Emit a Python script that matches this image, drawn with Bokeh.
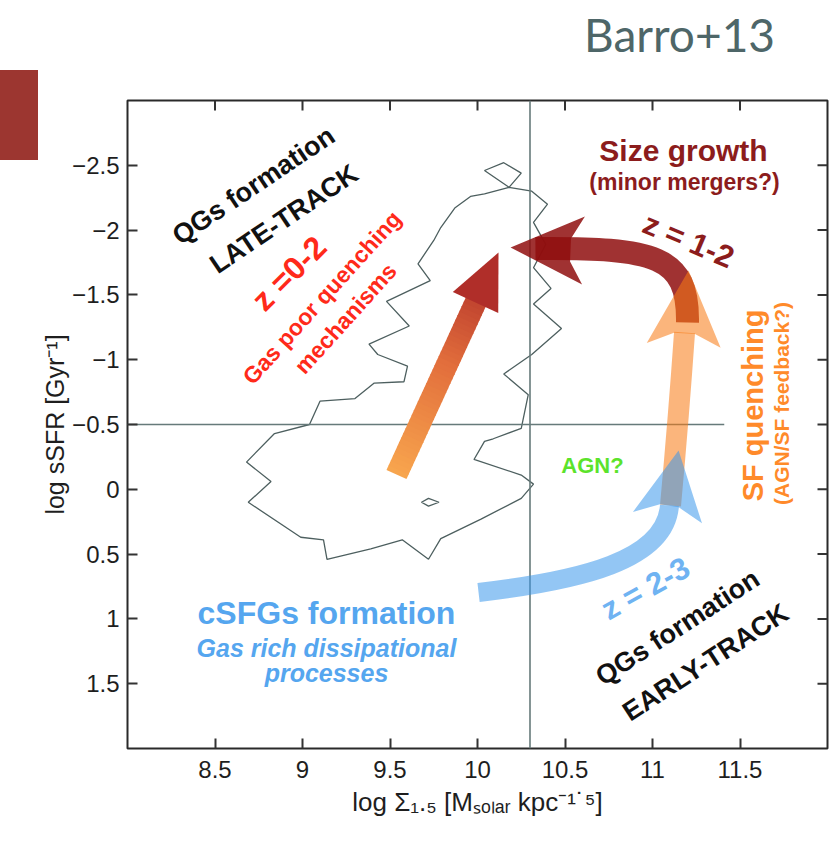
import numpy as np
from bokeh.plotting import figure
from bokeh.layouts import row, column
from bokeh.models import Range1d, FixedTicker, ColumnDataSource, Div, Spacer
from bokeh.embed import file_html
from bokeh.resources import INLINE
from bokeh.core.properties import value

# ---------------- data ----------------
x_ticks = [8.5, 9.0, 9.5, 10.0, 10.5, 11.0, 11.5]
x_tick_labels = ["8.5", "9", "9.5", "10", "10.5", "11", "11.5"]
y_ticks = [-2.5, -2.0, -1.5, -1.0, -0.5, 0.0, 0.5, 1.0, 1.5]
y_tick_labels = ["\u22122.5", "\u22122", "\u22121.5", "\u22121", "\u22120.5", "0", "0.5", "1", "1.5"]
x_start, x_end = 8.0, 12.0
y_top, y_bottom = -3.0, 2.0

divider_x = 10.3          # vertical reference line
divider_y = -0.5          # horizontal reference line
divider_y_xmax = 11.41

# outer density contour (log Sigma_1.5, log sSFR)
contour_x = [10.18, 10.04, 9.96, 9.87, 9.79, 9.75, 9.66, 9.73, 9.48, 9.61, 9.38, 9.43,
             9.60, 9.58, 9.41, 9.30, 9.10, 9.04, 8.84, 8.68, 8.82, 8.69, 8.99, 9.12,
             9.14, 9.39, 9.57, 9.72, 9.79, 10.02, 10.25, 10.32, 10.25, 9.98, 10.04, 10.09,
             10.25, 10.29, 10.15, 10.31, 10.48, 10.32, 10.42, 10.32, 10.39, 10.32, 10.40, 10.31]
contour_y = [-2.33, -2.28, -2.26, -2.17, -2.02, -1.92, -1.74, -1.61, -1.45, -1.26, -1.12, -1.04,
             -0.95, -0.83, -0.82, -0.70, -0.68, -0.50, -0.43, -0.21, -0.06, 0.10, 0.37, 0.39,
             0.54, 0.46, 0.39, 0.54, 0.38, 0.23, 0.07, -0.04, -0.11, -0.23, -0.37, -0.39,
             -0.47, -0.73, -0.89, -1.04, -1.24, -1.43, -1.55, -1.71, -1.89, -2.06, -2.20, -2.30]
loop_x = [10.18, 10.04, 10.15, 10.25]
loop_y = [-2.33, -2.46, -2.52, -2.44]
island_x = [9.68, 9.72, 9.78, 9.72]
island_y = [0.10, 0.07, 0.10, 0.13]

# evolutionary tracks (tail -> tip, bezier control points for curved ones)
late_x = [9.537, 10.12]
late_y = [-0.114, -1.827]
growth_x = [11.20, 11.206, 11.017, 10.331]
growth_y = [-1.287, -1.804, -1.866, -1.858]
growth_tip = (10.189, -1.866)
quench_x = [11.103, 11.137, 11.16, 11.183]
quench_y = [0.125, -0.377, -0.762, -1.210]
quench_tip = (11.206, -1.688)
csfg_x = [10.006, 10.589, 11.074, 11.097]
csfg_y = [0.796, 0.704, 0.549, 0.125]
csfg_tip = (11.149, -0.299)

# annotations
ann_text = ["QGs formation", "LATE-TRACK", "z =0-2", "Gas poor quenching", "mechanisms",
            "Size growth", "(minor mergers?)", "z = 1-2",
            "SF quenching", "(AGN/SF feedback?)", "AGN?",
            "cSFGs formation", "Gas rich dissipational", "processes", "z = 2-3",
            "QGs formation", "EARLY-TRACK"]
ann_x = [8.72, 8.894, 8.923, 9.111, 9.246,
         11.177, 11.183, 11.206,
         11.577, 11.737, 10.657,
         9.137, 9.137, 9.137, 10.96,
         11.143, 11.303]
ann_y = [-2.344, -2.086, -1.665, -1.48, -1.318,
         -2.614, -2.375, -1.92,
         -0.647, -0.662, -0.184,
         0.958, 1.221, 1.421, 0.765,
         1.066, 1.336]
source_tag = "Barro+13"

# ---------------- styles / layout ----------------
W, H = 835, 841
HEAD_H = 60                       # slide header strip holding the citation
SIDE_W = 38                       # width of the slide's red marker column
BL, BR, BT, BB = 127 - SIDE_W, 8, 100 - HEAD_H, 93
FW, FH = (W - SIDE_W) - BL - BR, (H - HEAD_H) - BT - BB
SX = FW / (x_end - x_start)
SY = FH / (y_bottom - y_top)

ann_angle = [34, 34, 45, 48, 48, 0, 0, -23, 90, 90, 0, 0, 0, 0, 29, 33, 33]
ann_size = ["27px", "27px", "32px", "23px", "23px", "30px", "23px", "31px",
            "29px", "21px", "22px", "32px", "25px", "25px", "31px", "27px", "27px"]
ann_style = ["bold"] * 12 + ["bold italic", "bold italic", "bold", "bold", "bold"]
ann_color = ["#111111", "#111111", "#ff2a1a", "#ff2a1a", "#ff2a1a",
             "#8c1c1c", "#8c1c1c", "#8c1c1c",
             "#ff8a2a", "#ff8a2a", "#5be32b",
             "#55a6ef", "#55a6ef", "#55a6ef", "#6fb3f2",
             "#111111", "#111111"]
FONT = "Liberation Sans"
TICK_LEN = 10

# slide header with the citation
header = Div(text=source_tag, width=775, height=HEAD_H, margin=(0, 0, 0, 0),
             styles={"font-family": "Lato, 'Gill Sans', sans-serif", "font-size": "46px",
                     "line-height": "46px", "color": "#4e6668", "text-align": "right",
                     "padding-top": "12px", "box-sizing": "border-box"})

# left slide marker (plain block, no text)
marker = Div(text="", width=SIDE_W, height=90, margin=(0, 0, 0, 0),
             styles={"background-color": "#9c3630"})
side = column(Spacer(width=SIDE_W, height=70 - HEAD_H, margin=(0, 0, 0, 0)), marker, spacing=0)

p = figure(width=W - SIDE_W, height=H - HEAD_H, x_range=Range1d(x_start, x_end),
           y_range=Range1d(y_bottom, y_top),
           output_backend="svg", toolbar_location=None,
           min_border_left=BL, min_border_right=BR, min_border_top=BT, min_border_bottom=BB,
           x_axis_label="log \u03a3\u2081.\u2085 [M\u209b\u2092\u2097\u2090\u1d63 kpc\u207b\u00b9\u02d9\u2075]",
           y_axis_label="log sSFR [Gyr\u207b\u00b9]")
p.grid.visible = False
p.background_fill_color = "white"
p.border_fill_color = "white"
p.outline_line_color = "#2a2a2a"
p.outline_line_width = 2

p.xaxis.ticker = FixedTicker(ticks=x_ticks)
p.yaxis.ticker = FixedTicker(ticks=y_ticks)
p.xaxis.major_label_overrides = {t: l for t, l in zip(x_ticks, x_tick_labels)}
p.yaxis.major_label_overrides = {t: l for t, l in zip(y_ticks, y_tick_labels)}
for ax in (p.xaxis[0], p.yaxis[0]):
    ax.major_tick_in = TICK_LEN
    ax.major_tick_out = 0
    ax.major_tick_line_color = "#333333"
    ax.major_tick_line_width = 2
    ax.minor_tick_line_color = None
    ax.axis_line_color = None
    ax.major_label_text_font = FONT
    ax.major_label_text_font_size = "24px"
    ax.major_label_text_color = "#1e1e1e"
    ax.axis_label_text_font = FONT
    ax.axis_label_text_font_style = "normal"
    ax.axis_label_text_color = "#1e1e1e"
p.xaxis.axis_label_text_font_size = "26px"
p.yaxis.axis_label_text_font_size = "25px"
p.xaxis.major_label_standoff = 12
p.yaxis.major_label_standoff = 8
p.xaxis.axis_label_standoff = 6
p.yaxis.axis_label_standoff = 0

# ticks on top and right edges (mirrored from the axis tick lists)
top_len = TICK_LEN / SY
right_len = TICK_LEN / SX
p.segment(x0=x_ticks, x1=x_ticks, y0=[y_top] * len(x_ticks), y1=[y_top + top_len] * len(x_ticks),
          line_color="#333333", line_width=2)
p.segment(x0=[x_end] * len(y_ticks), x1=[x_end - right_len] * len(y_ticks), y0=y_ticks, y1=y_ticks,
          line_color="#333333", line_width=2)

# contour
p.patches(xs=[contour_x, loop_x, island_x], ys=[contour_y, loop_y, island_y],
          fill_color=None, line_color="#4d5f5f", line_width=1.3)

# reference lines
p.segment(x0=[divider_x, x_start], y0=[y_bottom, divider_y], x1=[divider_x, divider_y_xmax],
          y1=[y_top, divider_y], line_color="#667a7a", line_width=1.6)


def to_px(x, y):
    return np.array([(x - x_start) * SX, (y - y_top) * SY])


def to_data(P):
    return P[0] / SX + x_start, P[1] / SY + y_top


def head(tip, frm, back, half, notch, inner):
    T = to_px(*tip)
    F = to_px(*frm)
    u = (T - F) / np.linalg.norm(T - F)
    n = np.array([-u[1], u[0]])
    pts = [T, T - u * back + n * half]
    if notch < back:
        pts += [T - u * notch + n * inner, T - u * notch - n * inner]
    pts += [T - u * back - n * half]
    xs, ys = zip(*[to_data(q) for q in pts])
    return list(xs), list(ys)


def bez(px, py):
    return dict(x0=[px[0]], y0=[py[0]], cx0=[px[1]], cy0=[py[1]],
                cx1=[px[2]], cy1=[py[2]], x1=[px[3]], y1=[py[3]])


# late-track gradient arrow
stops = np.array([[248, 166, 78], [226, 110, 60], [168, 36, 38]], dtype=float)


def grad(t):
    t = min(max(t, 0), 1)
    if t < 0.5:
        c = stops[0] + (stops[1] - stops[0]) * t / 0.5
    else:
        c = stops[1] + (stops[2] - stops[1]) * (t - 0.5) / 0.5
    return "#%02x%02x%02x" % tuple(int(round(v)) for v in c)


A = to_px(late_x[0], late_y[0])
B = to_px(late_x[1], late_y[1])
L = np.linalg.norm(B - A)
u = (B - A) / L
nrm = np.array([-u[1], u[0]])
hw = 11.0
shaft_len = L - 45
N = 40
qx, qy, qc = [], [], []
for i in range(N):
    s0 = shaft_len * i / N
    s1 = min(shaft_len * (i + 1) / N + 1.0, shaft_len)
    a = A + u * s0
    b = A + u * s1
    pts = [a + nrm * hw, b + nrm * hw, b - nrm * hw, a - nrm * hw]
    xs, ys = zip(*[to_data(q) for q in pts])
    qx.append(list(xs)); qy.append(list(ys))
    qc.append(grad((s0 + s1) / 2 / L))
p.patches(xs=qx, ys=qy, fill_color=qc, line_color=None)
hx, hy = head((late_x[1], late_y[1]), (late_x[0], late_y[0]), 55, 25, 55, 0)
p.patch(hx, hy, fill_color=grad(0.93), line_color=None)

# size growth (dark red)
p.bezier(**bez(growth_x, growth_y), line_color="#8f0e0e", line_alpha=0.85, line_width=23, line_cap="butt")
hx, hy = head(growth_tip, (growth_x[3], growth_y[3]), 73, 34, 60, 11.5)
p.patch(hx, hy, fill_color="#8f0e0e", fill_alpha=0.85, line_color=None)

# SF quenching (orange)
p.bezier(**bez(quench_x, quench_y), line_color="#f87a13", line_alpha=0.555, line_width=21, line_cap="butt")
hx, hy = head(quench_tip, (quench_x[3], quench_y[3]), 75, 37, 63, 10.5)
p.patch(hx, hy, fill_color="#f87a13", fill_alpha=0.555, line_color=None)

# cSFG track (blue)
p.bezier(**bez(csfg_x, csfg_y), line_color="#3795eb", line_alpha=0.54, line_width=19, line_cap="butt")
hx, hy = head(csfg_tip, (csfg_x[3], csfg_y[3]), 68, 35, 56, 9.5)
p.patch(hx, hy, fill_color="#3795eb", fill_alpha=0.54, line_color=None)

# annotations
src = ColumnDataSource(dict(x=ann_x, y=ann_y, text=ann_text, angle=[np.deg2rad(a) for a in ann_angle],
                            size=ann_size, style=ann_style, color=ann_color))
p.text(x="x", y="y", text="text", angle="angle", source=src, text_font=value(FONT),
       text_font_size="size", text_font_style="style", text_color="color",
       text_align="center", text_baseline="middle")

layout = column(header, row(side, p, spacing=0), spacing=0)
open("out.html", "w").write(file_html(layout, INLINE))
